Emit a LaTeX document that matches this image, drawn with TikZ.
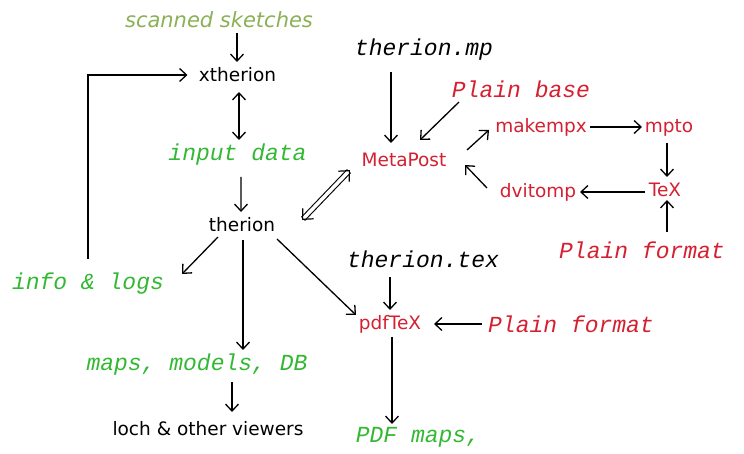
\documentclass[tikz,border=0pt]{standalone}
\usepackage{fontspec}
\setmainfont{DejaVu Sans}
\newfontfamily\monoit{Liberation Mono}[UprightFont=*-Italic]
\usetikzlibrary{arrows.meta,calc}
\definecolor{grn}{HTML}{33B833}
\definecolor{olv}{HTML}{8BB055}
\definecolor{rd}{HTML}{D42030}
\tikzset{
  sanslbl/.style={inner sep=1bp, font=\fontsize{18.5bp}{20bp}\selectfont},
  monolbl/.style={inner sep=1bp, font=\fontsize{23bp}{25bp}\monoit},
  arr/.style={line width=1.3bp, -{Straight Barb[length=7bp,width=13bp]}},
  darr/.style={line width=1.3bp, {Straight Barb[length=7bp,width=13bp]}-{Straight Barb[length=7bp,width=13bp]}},
  dtips/.style={draw=white, line width=1.2bp, {Straight Barb[length=8bp,width=15bp,color=black]}-{Straight Barb[length=8bp,width=15bp,color=black]}},
}
\begin{document}
\begin{tikzpicture}[x=1bp,y=-1bp]
\useasboundingbox (0,0) rectangle (744,454);
% nodes
\node[sanslbl, olv, font=\fontsize{21bp}{22bp}\selectfont\itshape] (sc) at (219,20) {scanned sketches};
\node[sanslbl] (xth) at (237.5,75) {xtherion};
\node[monolbl, grn] (inp) at (237.5,155) {input data};
\node[sanslbl] (ther) at (242,225) {therion};
\node[monolbl] (tmp) at (424,50) {therion.mp};
\node[monolbl, rd] (pb) at (521,89) {Plain base};
\node[sanslbl, rd] (mp) at (404,160) {MetaPost};
\node[sanslbl, rd] (mk) at (541,127) {makempx};
\node[sanslbl, rd] (mpto) at (669,128) {mpto};
\node[sanslbl, rd] (dvi) at (538,192) {dvitomp};
\node[sanslbl, rd] (tex) at (665,190) {TeX};
\node[monolbl, rd] (pf1) at (642,250) {Plain format};
\node[monolbl] (tt) at (423,259) {therion.tex};
\node[monolbl, grn] (info) at (88,284) {info \& logs};
\node[sanslbl, rd] (pdf) at (390,324) {pdfTeX};
\node[monolbl, rd] (pf2) at (571,324) {Plain format};
\node[monolbl, grn] (maps) at (197,365) {maps, models, DB};
\node[sanslbl] (loch) at (208,429) {loch \& other viewers};
\node[monolbl, grn] (pdfm) at (418,437) {PDF maps,};
% connectors
\draw[arr] ($(sc)+(18,13)$) -- ($(xth)+(-0.5,-13)$);
\draw[darr] ($(xth)+(1.5,17)$) -- ($(inp)+(1.5,-15)$);
\draw[arr] ($(inp)+(3.5,22)$) -- ($(ther)+(-1,-13)$);
\draw[double, double distance=3.5bp, line width=1.1bp, shorten <=1.5bp, shorten >=1.5bp] ($(ther)+(60,-5)$) -- ($(mp)+(-54,10)$);
\draw[dtips] ($(ther)+(60,-5)$) -- ($(mp)+(-54,10)$);
\draw[arr] ($(tmp)+(-33,22)$) -- ($(mp)+(-13,-17)$);
\draw[arr] ($(pb)+(-62,13)$) -- ($(mp)+(16,-20)$);
\draw[arr] ($(mp)+(63,-10)$) -- ($(mk)+(-52,3)$);
\draw[arr] ($(mk)+(49,0)$) -- ($(mpto)+(-27,-1)$);
\draw[arr] ($(mpto)+(-2,15)$) -- ($(tex)+(2,-13)$);
\draw[arr] ($(tex)+(-20,2)$) -- ($(dvi)+(42,0)$);
\draw[arr] ($(dvi)+(-51,-4)$) -- ($(mp)+(61,5)$);
\draw[arr] ($(pf1)+(25,-18)$) -- ($(tex)+(2,10)$);
\draw[arr] ($(ther)+(-24,12)$) -- ($(info)+(94,-10)$);
\draw[arr] ($(ther)+(1,15)$) -- ($(maps)+(46,-15)$);
\draw[arr] ($(ther)+(35,14)$) -- ($(pdf)+(-34,-9)$);
\draw[arr] ($(tt)+(-33,18)$) -- ($(pdf)+(0,-14)$);
\draw[arr] ($(pf2)+(-89,0)$) -- ($(pdf)+(44,0)$);
\draw[arr] ($(pdf)+(2,13)$) -- ($(pdfm)+(-26,-13)$);
\draw[arr] ($(maps)+(35,17)$) -- ($(loch)+(24,-17)$);
\draw[arr] ($(info)+(0,-25)$) |- ($(xth)+(-50,0)$);
\end{tikzpicture}
\end{document}
